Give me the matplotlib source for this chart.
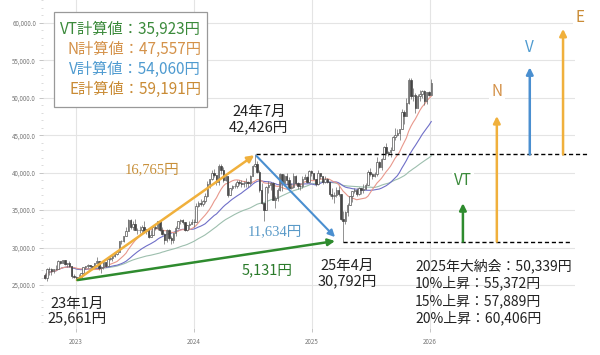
import numpy as np
import pandas as pd
import matplotlib
matplotlib.use('Agg')
import matplotlib.pyplot as plt
import matplotlib.dates as mdates
from matplotlib.patches import Rectangle
from matplotlib.ticker import FuncFormatter, MultipleLocator

plt.rcParams['font.family'] = ['Noto Sans CJK JP', 'DejaVu Sans']

# weekly candles (thousand yen), weeks starting Monday 2022-09-26
close_2022 = [25.94, 27.12, 27.09, 26.89, 27.11, 27.20, 28.26, 27.90, 28.28, 27.78, 27.90, 27.53, 26.24, 26.09]
high_2022 = [26.6, 27.3, 27.4, 27.3, 27.2, 27.7, 28.3, 28.1, 28.4, 28.4, 28.0, 28.2, 27.6, 26.5]
low_2022 = [25.8, 25.6, 26.4, 26.4, 26.6, 27.0, 27.2, 27.8, 27.9, 27.7, 27.4, 27.4, 26.0, 25.9]

close_2023 = [25.97, 26.12, 26.55, 27.38, 27.51, 27.67, 27.51, 27.45, 27.93, 28.14, 27.33, 27.39, 28.04,
              27.52, 28.49, 28.56, 28.86, 29.16, 29.39, 30.81, 30.92, 31.52, 32.27, 33.71, 32.78, 33.19,
              32.39, 32.39, 32.30, 32.76, 32.19, 32.47, 31.45, 31.62, 32.71, 32.61, 33.53, 32.40, 31.86,
              30.99, 32.32, 31.26, 30.99, 31.95, 32.57, 33.59, 33.63, 33.43, 32.31, 32.97, 33.17, 33.46]
high_2023 = [26.2, 26.5, 26.6, 27.4, 27.6, 27.8, 27.7, 27.6, 28.0, 28.7, 28.2, 27.5, 28.1,
             28.1, 28.5, 28.7, 28.9, 29.3, 29.4, 30.9, 31.0, 31.6, 32.7, 33.8, 33.8, 33.5,
             33.8, 32.6, 32.9, 33.0, 33.5, 32.5, 32.6, 32.3, 32.8, 33.2, 33.6, 33.5, 32.7,
             31.9, 32.5, 32.5, 31.6, 32.0, 32.9, 33.6, 33.8, 33.8, 33.2, 33.0, 33.5, 33.8]
low_2023 = [25.661, 25.8, 26.1, 26.6, 27.1, 27.3, 27.4, 27.1, 27.4, 27.9, 27.0, 26.6, 27.2,
            27.4, 27.5, 28.3, 28.2, 28.8, 29.0, 29.6, 30.5, 30.8, 31.5, 32.2, 32.5, 32.3,
            32.3, 31.8, 31.9, 32.0, 32.0, 31.8, 31.3, 31.4, 31.7, 32.3, 32.4, 32.2, 31.7,
            30.5, 30.7, 31.0, 30.5, 30.6, 31.6, 32.5, 33.1, 33.1, 32.2, 32.2, 32.5, 33.2]

close_2024 = [33.38, 35.58, 35.96, 35.75, 36.16, 36.90, 38.49, 39.10, 39.91, 39.69, 38.71, 40.89, 40.37,
              38.99, 39.52, 37.07, 37.93, 38.24, 38.23, 38.79, 38.65, 38.49, 38.68, 38.81, 38.60, 39.58,
              40.91, 41.19, 40.06, 37.67, 35.91, 35.03, 38.06, 38.36, 38.65, 36.39, 36.58, 37.72, 39.83,
              38.64, 39.61, 38.98, 37.91, 38.05, 39.50, 38.64, 38.28, 38.21, 39.09, 39.47, 38.70, 40.28]
high_2024 = [33.8, 35.9, 36.2, 36.5, 36.4, 37.3, 38.9, 39.2, 40.3, 40.5, 39.1, 41.1, 41.1,
             40.7, 39.8, 39.5, 38.0, 38.4, 38.6, 39.0, 39.0, 39.0, 38.9, 39.3, 38.9, 39.7,
             41.0, 42.426, 41.5, 40.4, 38.6, 35.9, 38.2, 38.9, 38.7, 38.7, 36.9, 38.0, 39.9,
             39.6, 39.8, 40.0, 39.4, 38.6, 39.9, 39.7, 38.8, 38.6, 39.5, 39.8, 39.5, 40.4]
low_2024 = [32.7, 33.8, 35.4, 35.6, 35.6, 36.0, 36.7, 37.9, 39.0, 39.4, 38.3, 38.4, 39.8,
            38.8, 38.9, 36.7, 37.1, 37.7, 37.9, 37.9, 38.3, 38.1, 38.1, 38.1, 38.1, 38.3,
            39.6, 40.7, 39.9, 37.4, 35.8, 33.5, 35.0, 37.3, 37.7, 36.3, 35.3, 36.2, 37.6,
            37.6, 38.2, 38.4, 37.7, 37.8, 38.0, 38.3, 37.8, 37.7, 38.0, 39.1, 38.6, 38.7]

close_2025 = [39.89, 39.19, 38.45, 39.93, 39.57, 38.79, 39.15, 38.78, 37.16, 36.89, 37.05, 37.68, 37.12,
              33.78, 33.59, 34.73, 35.71, 36.83, 37.50, 37.75, 37.16, 37.97, 37.74, 37.83, 38.40, 40.15,
              39.81, 39.57, 39.82, 41.46, 40.80, 41.82, 43.38, 42.63, 42.72, 43.02, 44.77, 45.05, 45.35,
              45.77, 48.09, 47.58, 49.30, 52.41, 50.28, 50.38, 48.63, 50.25, 50.49, 50.84, 49.51, 50.75]
high_2025 = [40.3, 40.0, 39.2, 40.3, 40.0, 39.6, 39.5, 39.3, 38.8, 37.9, 37.4, 38.1, 38.2,
             36.5, 34.9, 34.9, 35.9, 36.9, 37.6, 38.0, 38.0, 38.1, 38.0, 38.5, 38.6, 40.4,
             40.6, 40.0, 40.1, 42.1, 41.5, 41.9, 43.5, 43.9, 42.9, 43.4, 44.9, 45.9, 45.8,
             45.8, 48.5, 48.3, 49.9, 52.6, 52.6, 51.3, 50.6, 50.5, 51.0, 51.1, 51.1, 50.8]
low_2025 = [39.5, 39.1, 38.2, 38.3, 39.1, 38.5, 38.6, 38.6, 36.9, 36.5, 35.9, 36.8, 36.9,
            33.7, 30.792, 33.2, 34.2, 35.8, 36.1, 37.3, 36.9, 37.0, 37.2, 37.3, 37.9, 38.4,
            39.5, 39.2, 39.4, 39.6, 40.6, 40.3, 41.9, 42.3, 42.2, 42.1, 43.2, 44.4, 44.9,
            44.4, 46.2, 46.5, 47.6, 49.1, 49.8, 49.5, 48.0, 48.6, 49.6, 49.9, 49.0, 49.1]

close_2026 = [50.34, 51.94]
high_2026 = [50.9, 52.5]
low_2026 = [50.2, 50.9]
first_open = 26.4

# turning points and targets (yen)
low_jan23 = 25661
high_jul24 = 42426
low_apr25 = 30792
vt_val, n_val, v_val, e_val = 35923, 47557, 54060, 59191

calc_texts = ['VT計算値：35,923円', 'N計算値：47,557円', 'V計算値：54,060円', 'E計算値：59,191円']
calc_colors = ['#3b8a3b', '#d4924a', '#4f9bd0', '#c98b35']
close_info = ['2025年大納会：50,339円', '10%上昇：55,372円', '15%上昇：57,889円', '20%上昇：60,406円']
year_ticks = ['2023-01-01', '2024-01-01', '2025-01-01', '2026-01-01']

closes = np.array(close_2022 + close_2023 + close_2024 + close_2025 + close_2026) * 1000
highs = np.array(high_2022 + high_2023 + high_2024 + high_2025 + high_2026) * 1000
lows = np.array(low_2022 + low_2023 + low_2024 + low_2025 + low_2026) * 1000
opens = np.r_[first_open * 1000, closes[:-1]]
highs = np.maximum(highs, np.maximum(opens, closes))
lows = np.minimum(lows, np.minimum(opens, closes))
dates = pd.date_range('2022-09-26', periods=len(closes), freq='W-MON')
x = mdates.date2num(dates)


def d(s):
    return mdates.date2num(pd.Timestamp(s))


fig = plt.figure(figsize=(6, 3.55), dpi=100)
ax = fig.add_axes([43 / 600, 27 / 355, 532 / 600, 328 / 355])
ax.set_xlim(d('2022-09-21'), d('2027-03-26'))
ax.set_ylim(19260, 63050)
for s in ax.spines.values():
    s.set_visible(False)

ax.yaxis.set_minor_locator(MultipleLocator(1000))
ax.set_yticks(np.arange(25000, 60001, 5000))
ax.yaxis.set_major_formatter(FuncFormatter(lambda v, p: f'{v:,.1f}'))
ax.set_xticks([d(t) for t in year_ticks])
ax.xaxis.set_major_formatter(mdates.DateFormatter('%Y'))
ax.tick_params(axis='both', labelsize=4.5, labelcolor='#777', color='#bbb', length=3, width=0.6, pad=2)
ax.tick_params(axis='x', pad=4)
ax.tick_params(axis='y', which='minor', color='#ccc', length=1.5, width=0.5)
ax.grid(True, which='major', color='#e4e4e4', lw=0.8)
ax.set_axisbelow(True)

# moving averages
s = pd.Series(closes)
ax.plot(x, s.rolling(52, min_periods=1).mean(), color='#9dbfae', lw=0.8, zorder=2)
ax.plot(x, s.rolling(26, min_periods=1).mean(), color='#6f6fc8', lw=0.8, zorder=2)
ax.plot(x, s.rolling(13, min_periods=1).mean(), color='#e8988c', lw=0.8, zorder=2)

# candles
up = closes >= opens
ax.vlines(x, lows, highs, color='#666', lw=0.5, zorder=3)
ax.bar(x[up], (closes - opens)[up], bottom=opens[up], width=4.5,
       color='white', edgecolor='#555', lw=0.5, zorder=4)
ax.bar(x[~up], (opens - closes)[~up], bottom=closes[~up], width=4.5,
       color='#444', edgecolor='#444', lw=0.5, zorder=4)

# trend arrows
def arrow(x0, y0, x1, y1, color, lw):
    ax.annotate('', xy=(x1, y1), xytext=(x0, y0),
                arrowprops=dict(arrowstyle='-|>', color=color, lw=lw, mutation_scale=10,
                                shrinkA=0, shrinkB=0), zorder=6, annotation_clip=False)

arrow(d('2023-01-04'), low_jan23, d('2024-07-06'), high_jul24 - 100, '#f0b03c', 1.8)
arrow(d('2024-07-13'), high_jul24 - 200, d('2025-03-13'), 31400, '#4a8fd0', 1.5)
arrow(d('2023-01-06'), low_jan23, d('2025-03-13'), low_apr25 + 80, '#2e8b2e', 1.8)

# reference levels
ax.plot([d('2024-07-11'), d('2027-05-01')], [high_jul24] * 2, color='black', lw=1,
        dashes=(3, 2), clip_on=False, zorder=5)
ax.plot([d('2025-04-07'), d('2027-03-17')], [low_apr25] * 2, color='black', lw=1,
        dashes=(3, 2), clip_on=False, zorder=5)

# target arrows
targets = [('VT', d('2026-04-13'), low_apr25, vt_val, '#2e8b2e', '#3b8a3b', (0, 16)),
           ('N', d('2026-07-27'), low_apr25, n_val, '#f0b03c', '#d4924a', (0, 18)),
           ('V', d('2026-11-06'), high_jul24, v_val, '#4a8fd0', '#4f9bd0', (0, 14)),
           ('E', d('2027-02-17'), high_jul24, e_val, '#f0b03c', '#c98b35', (12, 8))]
for lab, tx, base, top, lc, tc, off in targets:
    arrow(tx, base, tx, top, lc, 1.8)
    ax.annotate(lab, xy=(tx, top), xytext=off, textcoords='offset points', ha='center',
                va='center', fontsize=11, color=tc, zorder=7, annotation_clip=False,
                bbox=dict(boxstyle='square,pad=0.15', fc='white', ec='none'))

# point labels
ax.text(d('2024-07-20'), 47040, '24年7月\n42,426円', ha='center', va='center',
        fontsize=10.5, color='#222', linespacing=1.1, zorder=7)
ax.text(d('2023-01-04'), 21530, '23年1月\n25,661円', ha='center', va='center',
        fontsize=10.5, color='#222', linespacing=1.1, zorder=7)
ax.text(d('2025-04-20'), 26540, '25年4月\n30,792円', ha='center', va='center',
        fontsize=10.5, color='#222', linespacing=1.1, zorder=7)
ax.text(d('2023-08-24'), 40360, '16,765円', ha='center', va='center', fontsize=10.5,
        color='#c8903a', family=['Liberation Serif', 'Noto Sans CJK JP'], zorder=7)
ax.text(d('2024-09-08'), 32080, '11,634円', ha='center', va='center', fontsize=10.5,
        color='#5a9ac8', family=['Liberation Serif', 'Noto Sans CJK JP'], zorder=7)
ax.text(d('2024-08-14'), 27000, '5,131円', ha='center', va='center', fontsize=10.5,
        color='#2a7a2a', zorder=7)
ax.text(d('2025-11-16'), 28470, '\n'.join(close_info), ha='left', va='top', fontsize=10,
        color='#222', linespacing=1.2, zorder=7)

# calculation box
ax.add_patch(Rectangle((0.0207, 0.674), 0.2876, 0.289, transform=ax.transAxes,
                       fc='white', ec='#999', lw=0.9, zorder=8))
for i, (t, c) in enumerate(zip(calc_texts, calc_colors)):
    ax.text(0.2970, 0.9116 - i * 0.061, t, transform=ax.transAxes, ha='right', va='center',
            fontsize=11, color=c, zorder=9)

fig.savefig('out.png', dpi=100)
